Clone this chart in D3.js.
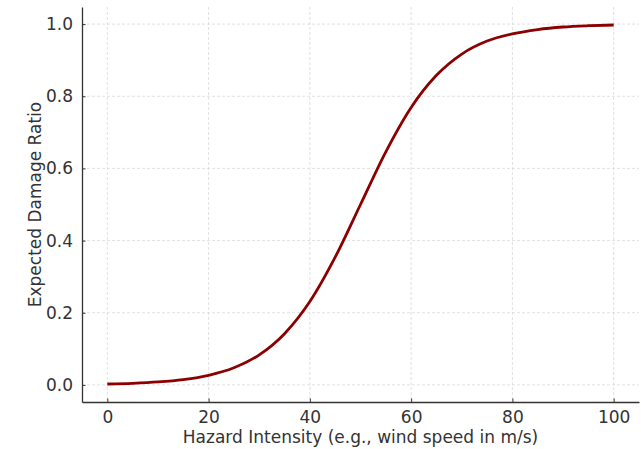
<!DOCTYPE html>
<html>
<head>
<meta charset="utf-8">
<script src="https://cdn.jsdelivr.net/npm/d3@7"></script>
<style>
  html, body { margin: 0; padding: 0; background: #fff; }
  svg { display: block; font-family: "DejaVu Sans", sans-serif; }
</style>
</head>
<body>
<svg id="chart" width="641" height="449"></svg>
<script>
// Data
const intensity = [0, 5, 10, 15, 20, 25, 30, 35, 40, 45, 50, 55, 60, 65, 70, 75, 80, 85, 90, 95, 100];
const damageRatio = [0.0025, 0.0045, 0.0082, 0.0148, 0.0266, 0.0474, 0.0832, 0.142, 0.231, 0.354, 0.5,
                     0.646, 0.769, 0.858, 0.917, 0.953, 0.973, 0.985, 0.992, 0.9955, 0.9975];
const xTicks = [0, 20, 40, 60, 80, 100];
const yTicks = [0.0, 0.2, 0.4, 0.6, 0.8, 1.0];
const xLabel = "Hazard Intensity (e.g., wind speed in m/s)";
const yLabel = "Expected Damage Ratio";

const svg = d3.select("#chart");
const margin = { left: 82, right: 2, top: 7, bottom: 47 };
const W = 641, H = 449;
const x = d3.scaleLinear().domain([-5, 105]).range([margin.left, W - margin.right]);
const y = d3.scaleLinear().domain([-0.0474, 1.0474]).range([H - margin.bottom, margin.top]);

// grid
const grid = svg.append("g");
grid.selectAll("line.vx").data(xTicks).join("line")
  .attr("x1", d => x(d)).attr("x2", d => x(d))
  .attr("y1", margin.top).attr("y2", H - margin.bottom)
  .attr("stroke", "#d9d9d9").attr("stroke-width", 0.8).attr("stroke-dasharray", "3,2");
grid.selectAll("line.hy").data(yTicks).join("line")
  .attr("y1", d => y(d)).attr("y2", d => y(d))
  .attr("x1", margin.left).attr("x2", W - margin.right)
  .attr("stroke", "#d9d9d9").attr("stroke-width", 0.8).attr("stroke-dasharray", "3,2");

// line
const pts = intensity.map((v, i) => [v, damageRatio[i]]);
svg.append("path").datum(pts)
  .attr("fill", "none").attr("stroke", "#8b0000").attr("stroke-width", 2.8)
  .attr("stroke-linecap", "butt")
  .attr("d", d3.line().x(d => x(d[0])).y(d => y(d[1])).curve(d3.curveMonotoneX));

// axes
const xAxis = d3.axisBottom(x).tickValues(xTicks).tickFormat(d3.format("d")).tickSizeInner(-3.5).tickSizeOuter(0).tickPadding(9);
const yAxis = d3.axisLeft(y).tickValues(yTicks).tickFormat(d3.format(".1f")).tickSizeInner(-3.5).tickSizeOuter(0).tickPadding(9);

const gx = svg.append("g").attr("transform", `translate(0,${H - margin.bottom})`).call(xAxis);
const gy = svg.append("g").attr("transform", `translate(${margin.left},0)`).call(yAxis);
[gx, gy].forEach(g => {
  g.select(".domain").attr("stroke", "#333").attr("stroke-width", 1.3);
  g.selectAll(".tick line").attr("stroke", "#333").attr("stroke-width", 1);
  g.selectAll(".tick text").attr("fill", "#333").attr("font-size", 17).attr("font-family", "DejaVu Sans, sans-serif");
});

svg.append("text").attr("x", (margin.left + W - margin.right) / 2).attr("y", 443)
  .attr("text-anchor", "middle").attr("font-size", 17).attr("fill", "#333").text(xLabel);
svg.append("text").attr("transform", `translate(41,${(margin.top + H - margin.bottom) / 2}) rotate(-90)`)
  .attr("text-anchor", "middle").attr("font-size", 17).attr("fill", "#333").text(yLabel);
</script>
</body>
</html>
